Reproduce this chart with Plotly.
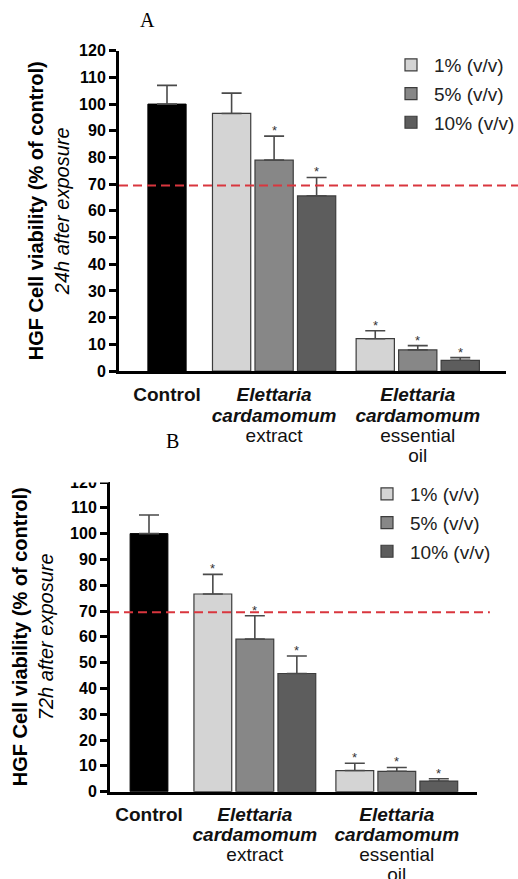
import plotly.graph_objects as go

# ---------------- data ----------------
DOSES = ["1% (v/v)", "5% (v/v)", "10% (v/v)"]
DOSE_COLORS = ["#d4d4d4", "#878787", "#5d5d5d"]
CONTROL_COLOR = "#000000"
GROUP_LABELS = [
    ["<b>Control</b>"],
    ["<b><i>Elettaria</i></b>", "<b><i>cardamomum</i></b>", "extract"],
    ["<b><i>Elettaria</i></b>", "<b><i>cardamomum</i></b>", "essential", "oil"],
]
GROUP_POS = [0.0, 2.52, 5.9]
DOSE_OFFSET = [-1.0, 0.0, 1.0]
BAR_WIDTH = 0.9
Y_TICKS = list(range(0, 121, 10))
THRESHOLD = 69.5

# Panel A (24 h)
A_CONTROL = [100.0]
A_CONTROL_ERR = [7.0]
A_EXTRACT = [96.5, 79.0, 65.6]
A_EXTRACT_ERR = [7.6, 9.0, 6.9]
A_OIL = [12.1, 7.9, 4.0]
A_OIL_ERR = [3.0, 1.6, 1.0]
A_EXTRACT_SIG = [False, True, True]
A_OIL_SIG = [True, True, True]

# Panel B (72 h)
B_CONTROL = [100.0]
B_CONTROL_ERR = [7.2]
B_EXTRACT = [76.6, 59.1, 45.8]
B_EXTRACT_ERR = [7.6, 9.1, 6.8]
B_OIL = [8.2, 7.9, 4.1]
B_OIL_ERR = [2.8, 1.5, 0.9]
B_EXTRACT_SIG = [True, True, True]
B_OIL_SIG = [True, True, True]

# ---------------- layout geometry (pixels) ----------------
W, H = 518, 879
FONT = "Liberation Sans, Arial, sans-serif"


def px_x(p):
    return p / W


def px_y(p):
    return 1 - p / H


def tick_label(lines, size=19):
    return "<br>".join(f"<span style='font-size:{size}px'>{ln}</span>" for ln in lines)


TICK_TEXT = [tick_label(lines) for lines in GROUP_LABELS]

fig = go.Figure()
annotations = []
shapes = []


def add_panel(xa, ya, legend, control, control_err, extract, extract_err,
              oil, oil_err, ext_sig, oil_sig):
    fig.add_trace(go.Bar(
        x=[GROUP_POS[0]], y=control, width=BAR_WIDTH,
        marker=dict(color=CONTROL_COLOR, line=dict(color="#000000", width=1)),
        error_y=dict(type="data", symmetric=False, array=control_err,
                     arrayminus=[0], color="#4a4a4a", thickness=1.6, width=10),
        showlegend=False, xaxis=xa, yaxis=ya, name="Control",
    ))
    for i, dose in enumerate(DOSES):
        xs = [GROUP_POS[1] + DOSE_OFFSET[i], GROUP_POS[2] + DOSE_OFFSET[i]]
        ys = [extract[i], oil[i]]
        es = [extract_err[i], oil_err[i]]
        fig.add_trace(go.Bar(
            x=xs, y=ys, width=BAR_WIDTH, name=dose,
            marker=dict(color=DOSE_COLORS[i], line=dict(color="#3c3c3c", width=1.2)),
            error_y=dict(type="data", symmetric=False, array=es,
                         arrayminus=[0, 0], color="#4a4a4a", thickness=1.6, width=10),
            legend=legend, legendgroup=f"{legend}_{i}",
            xaxis=xa, yaxis=ya,
        ))
        for x, y, e, s in zip(xs, ys, es, [ext_sig[i], oil_sig[i]]):
            if s:
                annotations.append(dict(
                    x=x, y=y + e, xref=xa, yref=ya, text="*", showarrow=False,
                    yanchor="bottom", yshift=-4,
                    font=dict(family=FONT, size=13, color="#333333"),
                ))
    shapes.append(dict(
        type="line", xref=f"{xa} domain", yref=ya, x0=0, x1=1.035,
        y0=THRESHOLD, y1=THRESHOLD,
        line=dict(color="#d9363e", width=2, dash="9px,5px"), layer="above",
    ))


add_panel("x", "y", "legend", A_CONTROL, A_CONTROL_ERR, A_EXTRACT, A_EXTRACT_ERR,
          A_OIL, A_OIL_ERR, A_EXTRACT_SIG, A_OIL_SIG)
add_panel("x2", "y2", "legend2", B_CONTROL, B_CONTROL_ERR, B_EXTRACT, B_EXTRACT_ERR,
          B_OIL, B_OIL_ERR, B_EXTRACT_SIG, B_OIL_SIG)

xaxis_common = dict(
    tickvals=GROUP_POS, ticktext=TICK_TEXT, ticks="", showline=True,
    linewidth=3, linecolor="black", showgrid=False, zeroline=False,
    tickfont=dict(family=FONT, size=15.4, color="#111111"),
    automargin=False,
)
yaxis_common = dict(
    range=[0, 120], tickvals=Y_TICKS, ticks="outside", ticklen=7, tickwidth=2.5,
    tickcolor="black", showline=True, linewidth=3, linecolor="black",
    showgrid=False, zeroline=False, automargin=False,
    tickfont=dict(family=FONT, size=16, color="black", weight="bold"),
)

title_font = dict(family=FONT, size=20, color="black")
legend_font = dict(family=FONT, size=19, color="#222222")

fig.update_layout(
    width=W, height=H, margin=dict(l=0, r=0, t=0, b=0, autoexpand=False),
    paper_bgcolor="white", plot_bgcolor="white", barmode="overlay",
    xaxis=dict(domain=[px_x(119), px_x(506)],
               range=[(119 - 167) / 42.5, (506 - 167) / 42.5], anchor="y",
               ticklabelstandoff=9, **xaxis_common),
    yaxis=dict(domain=[px_y(371), px_y(50.7)], anchor="x",
               title=dict(text="<b>HGF Cell viability (% of control)</b><br><i>24h after exposure</i>",
                          font=title_font, standoff=5),
               **yaxis_common),
    xaxis2=dict(domain=[px_x(110), px_x(477)],
                range=[(110 - 149) / 42.0, (477 - 149) / 42.0], anchor="y2",
                ticklabelstandoff=8, **xaxis_common),
    yaxis2=dict(domain=[px_y(791.7), px_y(482)], anchor="x2",
                title=dict(text="<b>HGF Cell viability (% of control)</b><br><i>72h after exposure</i>",
                           font=title_font, standoff=12),
                **yaxis_common),
    legend=dict(x=px_x(388), y=px_y(46), xanchor="left", yanchor="top",
                font=legend_font, traceorder="grouped", tracegroupgap=1,
                itemwidth=36, bgcolor="rgba(0,0,0,0)"),
    legend2=dict(x=px_x(364), y=px_y(475), xanchor="left", yanchor="top",
                 font=legend_font, traceorder="grouped", tracegroupgap=1,
                 itemwidth=36, bgcolor="rgba(0,0,0,0)"),
    showlegend=True,
)

# white mask reproducing the cropped top of panel B ("120" label cut off)
shapes.append(dict(type="rect", xref="paper", yref="paper",
                   x0=px_x(50), x1=px_x(108.5), y0=px_y(482.5), y1=px_y(465),
                   fillcolor="white", line=dict(width=0), layer="above"))

annotations.append(dict(x=px_x(147), y=px_y(20), xref="paper", yref="paper",
                        text="A", showarrow=False, xanchor="center", yanchor="middle",
                        font=dict(family="Liberation Serif, Times New Roman, serif",
                                  size=20, color="black")))
annotations.append(dict(x=px_x(172), y=px_y(441), xref="paper", yref="paper",
                        text="B", showarrow=False, xanchor="center", yanchor="middle",
                        font=dict(family="Liberation Serif, Times New Roman, serif",
                                  size=20, color="black")))

fig.update_layout(annotations=annotations, shapes=shapes)
fig.write_html("out.html", config={"displayModeBar": False},
               post_script="document.body.style.margin='0px';document.body.style.padding='0px';")
